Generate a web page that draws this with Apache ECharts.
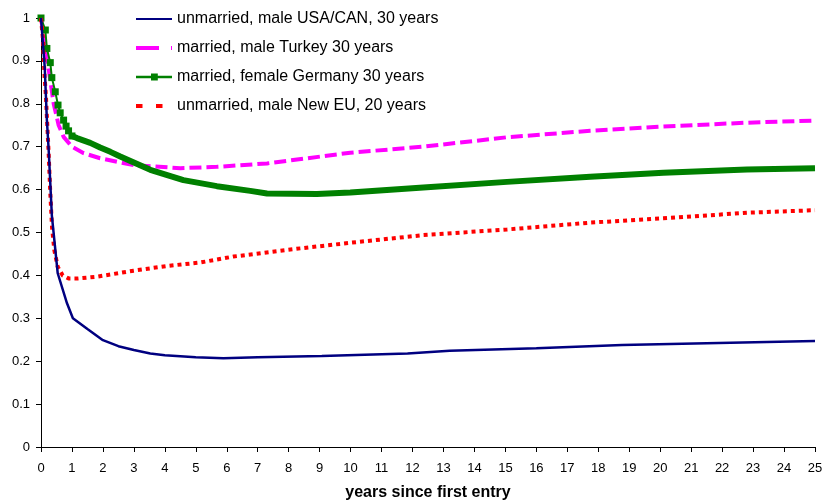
<!DOCTYPE html>
<html>
<head>
<meta charset="utf-8">
<script src="https://cdn.jsdelivr.net/npm/echarts@6/dist/echarts.min.js"></script>
<style>html,body{margin:0;padding:0;background:#fff}#c{width:825px;height:504px}</style>
</head>
<body>
<div id="c"></div>
<script>
var seriesNames = ['unmarried, male USA/CAN, 30 years', 'married, male Turkey 30 years', 'married, female Germany 30 years', 'unmarried, male New EU, 20 years'];
var xTicks = [0,1,2,3,4,5,6,7,8,9,10,11,12,13,14,15,16,17,18,19,20,21,22,23,24,25];
var yTicks = [0,0.1,0.2,0.3,0.4,0.5,0.6,0.7,0.8,0.9,1];

var usaX = [0, 0.12, 0.19, 0.25, 0.35, 0.54, 0.84, 1.03, 1.5, 2, 2.5, 3, 3.53, 4, 5, 5.89, 7, 9.07, 11.84, 13.2, 16, 18.77, 21.5, 25];
var usaY = [1.0, 0.886, 0.762, 0.69, 0.54, 0.405, 0.335, 0.30, 0.275, 0.249, 0.235, 0.226, 0.218, 0.214, 0.209, 0.207, 0.209, 0.212, 0.218, 0.2245, 0.230, 0.238, 0.242, 0.247];

var trX = [0, 0.15, 0.25, 0.41, 0.57, 0.73, 1.0, 1.38, 1.91, 2.99, 4.5, 5.68, 7.3, 8.59, 9.99, 12.35, 15.05, 17.74, 20.1, 22.8, 25];
var trY = [1.0, 0.93, 0.88, 0.80, 0.75, 0.723, 0.70, 0.685, 0.673, 0.657, 0.650, 0.653, 0.661, 0.673, 0.686, 0.700, 0.722, 0.737, 0.747, 0.756, 0.761];

var deX = [0, 0.14, 0.19, 0.30, 0.35, 0.46, 0.55, 0.62, 0.73, 0.81, 0.89, 1.0, 1.16, 1.59, 1.91, 2.24, 2.56, 3.53, 4.6, 5.68, 6.76, 7.3, 8.91, 9.99, 12.35, 15.05, 17.74, 20.1, 22.8, 25];
var deY = [1.0, 0.972, 0.929, 0.896, 0.861, 0.828, 0.797, 0.779, 0.762, 0.748, 0.737, 0.725, 0.72, 0.709, 0.698, 0.688, 0.677, 0.646, 0.622, 0.608, 0.597, 0.591, 0.590, 0.593, 0.605, 0.618, 0.630, 0.639, 0.647, 0.650];

var euX = [0, 0.065, 0.116, 0.16, 0.19, 0.245, 0.30, 0.355, 0.43, 0.54, 0.7, 0.89, 1.2, 1.81, 2.99, 4.07, 5.14, 6.22, 8.37, 9.99, 12.35, 15.05, 17.74, 20.1, 22.8, 25];
var euY = [1.0, 0.949, 0.863, 0.817, 0.77, 0.688, 0.592, 0.513, 0.459, 0.42, 0.40, 0.393, 0.393, 0.397, 0.411, 0.422, 0.43, 0.444, 0.463, 0.476, 0.494, 0.507, 0.523, 0.533, 0.546, 0.552];

function pairs(xs, ys) { return xs.map(function (x, i) { return [x, ys[i]]; }); }

var deMarked = deX.map(function (x, i) {
  return x <= 1.0 ? { value: [x, deY[i]], symbol: 'rect', symbolSize: 7 } : { value: [x, deY[i]], symbol: 'none' };
});
var deThick = pairs(deX, deY).filter(function (p) { return p[0] >= 1.0; });

var icons = [
  'path://M0,0L36,0L36,2.2L0,2.2Z',
  'path://M0,0L23,0L23,4L0,4Z M35,0L36,0L36,4L35,4Z',
  'path://M0,2.2L36,2.2L36,4.6L0,4.6Z M15,0L21.8,0L21.8,6.8L15,6.8Z',
  'path://M0,0L6.5,0L6.5,4L0,4Z M20,0L26.5,0L26.5,4L20,4Z M35.95,2L36,2L36,2.05Z'
];

var chart = echarts.init(document.getElementById('c'), null, { renderer: 'canvas' });
var font = 'Liberation Sans, Arial, sans-serif';
chart.setOption({
  animation: false,
  backgroundColor: '#fff',
  textStyle: { fontFamily: font },
  grid: { left: 41, right: 10, top: 18, bottom: 57, containLabel: false, outerBoundsMode: 'none' },
  legend: {
    orient: 'vertical', left: 136, top: 11, padding: 0, itemGap: 13, itemWidth: 36, itemHeight: 14,
    symbolKeepAspect: true,
    itemStyle: { borderWidth: 0 },
    data: seriesNames.map(function (n, i) { return { name: n, icon: icons[i] }; }),
    textStyle: { fontSize: 16, color: '#000', fontFamily: font }
  },
  xAxis: {
    type: 'value', min: 0, max: 25, interval: 1,
    name: 'years since first entry', nameLocation: 'middle', nameGap: 38,
    nameTextStyle: { fontWeight: 'bold', fontSize: 16, color: '#000', fontFamily: font },
    axisLine: { lineStyle: { color: '#000', width: 1 } },
    axisTick: { length: 5, lineStyle: { color: '#000' } },
    axisLabel: { fontSize: 13, color: '#000', margin: 15, fontFamily: font },
    splitLine: { show: false }
  },
  yAxis: {
    type: 'value', min: 0, max: 1, interval: 0.1,
    axisLine: { show: true, lineStyle: { color: '#000', width: 1 } },
    axisTick: { show: true, length: 5, lineStyle: { color: '#000' } },
    axisLabel: { fontSize: 13, color: '#000', margin: 11, fontFamily: font,
      formatter: function (v) { return String(Math.round(v * 10) / 10); } },
    splitLine: { show: false }
  },
  series: [
    { name: seriesNames[2] + ' ', type: 'line', data: deThick, symbol: 'none', z: 3,
      lineStyle: { color: '#008000', width: 6 }, itemStyle: { color: '#008000' } },
    { name: seriesNames[2], type: 'line', data: deMarked, z: 3,
      lineStyle: { color: '#008000', width: 2 }, itemStyle: { color: '#008000' } },
    { name: seriesNames[1], type: 'line', data: pairs(trX, trY), symbol: 'none', z: 2,
      lineStyle: { color: '#FF00FF', width: 4, type: [12, 5] }, itemStyle: { color: '#FF00FF' } },
    { name: seriesNames[3], type: 'line', data: pairs(euX, euY), symbol: 'none', z: 4,
      lineStyle: { color: '#FF0000', width: 4, type: [4, 4] }, itemStyle: { color: '#FF0000' } },
    { name: seriesNames[0], type: 'line', data: pairs(usaX, usaY), symbol: 'none', z: 5,
      lineStyle: { color: '#000080', width: 2.5 }, itemStyle: { color: '#000080' } }
  ]
});
</script>
</body>
</html>
